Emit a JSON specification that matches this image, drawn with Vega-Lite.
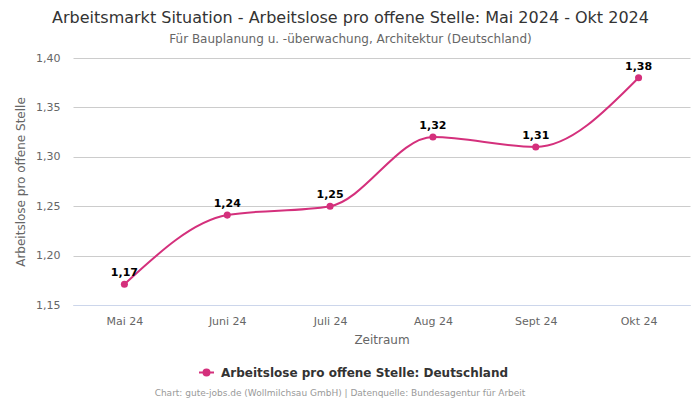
{
  "$schema": "https://vega.github.io/schema/vega-lite/v6.json",
  "width": 617,
  "height": 247,
  "autosize": {"type": "none"},
  "padding": {"left": 73, "right": 10, "top": 58, "bottom": 95},
  "background": "white",
  "config": {
    "font": "DejaVu Sans",
    "view": {"stroke": null},
    "locale": {"number": {"decimal": ",", "thousands": ".", "grouping": [3], "currency": ["", " €"]}}
  },
  "title": {
    "text": "Arbeitsmarkt Situation - Arbeitslose pro offene Stelle: Mai 2024 - Okt 2024",
    "subtitle": "Für Bauplanung u. -überwachung, Architektur (Deutschland)",
    "anchor": "middle",
    "frame": "group",
    "dx": -31,
    "fontSize": 16,
    "fontWeight": "normal",
    "color": "#333333",
    "subtitleFontSize": 12,
    "subtitleColor": "#666666",
    "subtitlePadding": 8,
    "offset": 7
  },
  "data": {
    "values": [
      {"monat": "Mai 24", "wert": 1.171, "serie": "Arbeitslose pro offene Stelle: Deutschland"},
      {"monat": "Juni 24", "wert": 1.241, "serie": "Arbeitslose pro offene Stelle: Deutschland"},
      {"monat": "Juli 24", "wert": 1.25, "serie": "Arbeitslose pro offene Stelle: Deutschland"},
      {"monat": "Aug 24", "wert": 1.32, "serie": "Arbeitslose pro offene Stelle: Deutschland"},
      {"monat": "Sept 24", "wert": 1.31, "serie": "Arbeitslose pro offene Stelle: Deutschland"},
      {"monat": "Okt 24", "wert": 1.38, "serie": "Arbeitslose pro offene Stelle: Deutschland"}
    ]
  },
  "encoding": {
    "x": {
      "field": "monat",
      "type": "ordinal",
      "sort": null,
      "scale": {"type": "point", "padding": 0.5},
      "axis": {
        "title": "Zeitraum",
        "titleFontSize": 12,
        "titleFontWeight": "normal",
        "titleColor": "#666666",
        "titlePadding": 8,
        "labelFontSize": 11,
        "labelColor": "#666666",
        "labelAngle": 0,
        "labelPadding": 10,
        "ticks": false,
        "grid": false,
        "domainColor": "#ccd6eb",
        "domainWidth": 1
      }
    },
    "y": {
      "field": "wert",
      "type": "quantitative",
      "scale": {"domain": [1.15, 1.4], "nice": false, "zero": false},
      "axis": {
        "title": "Arbeitslose pro offene Stelle",
        "titleFontSize": 12,
        "titleFontWeight": "normal",
        "titleColor": "#666666",
        "titlePadding": 8,
        "labelFontSize": 11,
        "labelColor": "#666666",
        "labelPadding": 13,
        "values": [1.15, 1.2, 1.25, 1.3, 1.35, 1.4],
        "format": ".2f",
        "ticks": false,
        "domain": false,
        "gridColor": "#cccccc",
        "gridWidth": 1
      }
    }
  },
  "layer": [
    {
      "mark": {"type": "line", "interpolate": "monotone", "strokeWidth": 2, "point": {"filled": true, "size": 50}},
      "encoding": {
        "color": {
          "field": "serie",
          "type": "nominal",
          "scale": {"range": ["#d4307c"]},
          "legend": {
            "orient": "none",
            "legendX": 82,
            "legendY": 306,
            "title": "Chart: gute-jobs.de (Wollmilchsau GmbH) | Datenquelle: Bundesagentur für Arbeit",
            "titleOrient": "bottom",
            "titleAnchor": "middle",
            "titleFontSize": 9,
            "titleFontWeight": "normal",
            "titleColor": "#999999",
            "titlePadding": 9,
            "titleLimit": 700,
            "labelFontSize": 12,
            "labelFontWeight": "bold",
            "labelColor": "#333333",
            "labelLimit": 500,
            "symbolType": "M-1,0H1M-0.4,0A0.4,0.4 0 1,0 0.4,0A0.4,0.4 0 1,0 -0.4,0",
            "symbolSize": 225,
            "symbolStrokeWidth": 2,
            "symbolFillColor": "#d4307c",
            "symbolStrokeColor": "#d4307c",
            "symbolOffset": 27,
            "labelOffset": 6
          }
        }
      }
    },
    {
      "mark": {"type": "text", "dy": -11, "fontSize": 11, "fontWeight": "bold", "color": "#000000"},
      "encoding": {
        "text": {"field": "wert", "type": "quantitative", "format": ".2f"}
      }
    }
  ]
}
